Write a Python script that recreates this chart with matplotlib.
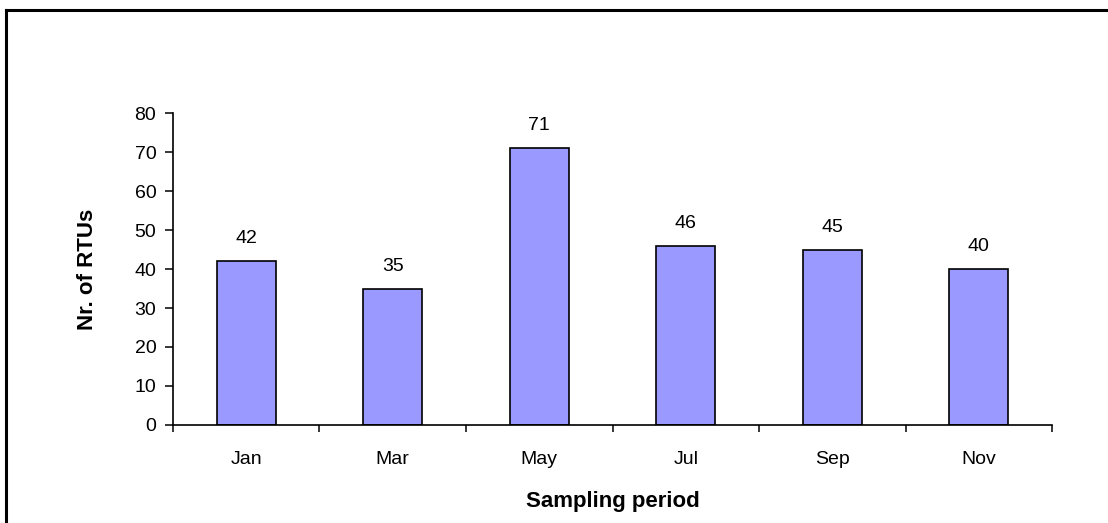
import matplotlib.pyplot as plt
import numpy as np
from matplotlib.lines import Line2D

months = ['Jan', 'Mar', 'May', 'Jul', 'Sep', 'Nov']
rtus = [42, 35, 71, 46, 45, 40]
y_ticks = [0, 10, 20, 30, 40, 50, 60, 70, 80]

plt.rcParams['font.family'] = ['Liberation Sans', 'DejaVu Sans']

fig = plt.figure(figsize=(11.08, 5.23), dpi=100)
ax = fig.add_axes([0.1561, 0.1874, 0.7934, 0.5965])

x = np.arange(len(months))
ax.bar(x, rtus, width=0.4, color='#9999FF', edgecolor='black', linewidth=1.2, zorder=2)

for xi, v in zip(x, rtus):
    ax.annotate(str(v), (xi, v), xytext=(0, 16), textcoords='offset points',
                ha='center', va='center', fontsize=14)

ax.set_xlim(-0.5, len(months) - 0.5)
ax.set_ylim(0, 80)
ax.set_yticks(y_ticks)
ax.set_xticks(x)
ax.set_xticklabels(months, fontsize=14)
ax.set_xticks(np.arange(len(months) + 1) - 0.5, minor=True)
ax.tick_params(axis='x', which='major', length=0, pad=19)
ax.tick_params(axis='x', which='minor', length=5, width=1.1, direction='out')
ax.tick_params(axis='y', labelsize=14, length=6, width=1.1, pad=6)

for s in ['top', 'right']:
    ax.spines[s].set_visible(False)
for s in ['left', 'bottom']:
    ax.spines[s].set_linewidth(1.2)

ax.set_xlabel('Sampling period', fontsize=16, fontweight='bold')
ax.xaxis.set_label_coords(0.5, -0.244)
ax.xaxis.label.set_va('center')
ax.set_ylabel('Nr. of RTUs', fontsize=16, fontweight='bold')
ax.yaxis.set_label_coords(-0.097, 0.5)
ax.yaxis.label.set_va('center')

# outer chart border (cut off at right and bottom like the reference)
fig.add_artist(Line2D([6 / 1108, 6 / 1108], [1 - 10 / 523, -0.1], color='black', lw=2.2,
                      transform=fig.transFigure))
fig.add_artist(Line2D([6 / 1108, 1.1], [1 - 10 / 523, 1 - 10 / 523], color='black', lw=2.2,
                      transform=fig.transFigure))

fig.savefig('out.png', dpi=100)
